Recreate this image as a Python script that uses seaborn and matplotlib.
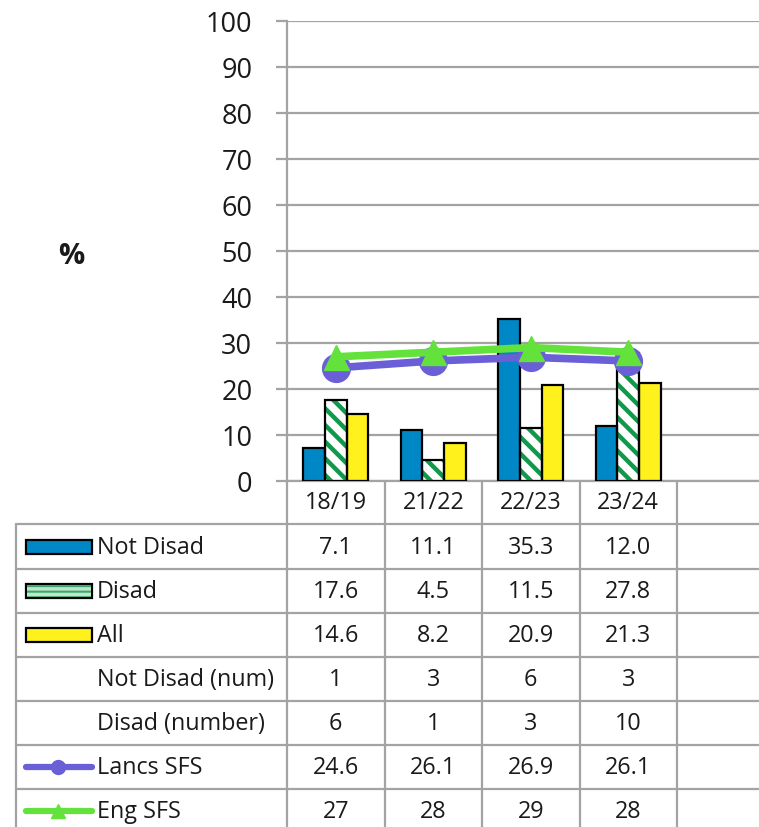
import numpy as np
import pandas as pd
import matplotlib
matplotlib.use("Agg")
import matplotlib.pyplot as plt
import matplotlib.patches as mpatches
import matplotlib.lines as mlines
from matplotlib.transforms import blended_transform_factory
import seaborn as sns

years = ["18/19", "21/22", "22/23", "23/24"]
not_disad = [7.1, 11.1, 35.3, 12.0]
disad = [17.6, 4.5, 11.5, 27.8]
all_pupils = [14.6, 8.2, 20.9, 21.3]
not_disad_num = [1, 3, 6, 3]
disad_num = [6, 1, 3, 10]
lancs_sfs = [24.6, 26.1, 26.9, 26.1]
eng_sfs = [27, 28, 29, 28]

bar_series = ["Not Disad", "Disad", "All"]
yticks = list(range(0, 101, 10))

# colours
blue = "#0088C6"
green = "#10994A"
yellow = "#FFF21C"
lancs_col = "#6A5FD6"
eng_col = "#63E23C"
grid_col = "#A3A3A3"
txt_col = "#1A1A1A"

sns.set_style("white")
plt.rcParams['font.family'] = ['Open Sans', 'DejaVu Sans']
plt.rcParams['hatch.linewidth'] = 3.2

W, H = 759, 828
fig = plt.figure(figsize=(W / 100, H / 100), dpi=100)

def fx(px):
    return px / W

def fy(py):
    return 1 - py / H

# plot area: 287..774 px wide (5 category slots, last one empty and cropped)
ax = fig.add_axes([fx(287), fy(482), fx(774.5) - fx(287), fy(22) - fy(482)])

df = pd.DataFrame({
    "year": years * 3,
    "series": np.repeat(bar_series, len(years)),
    "value": not_disad + disad + all_pupils,
})
sns.barplot(data=df, x="year", y="value", hue="series", order=years,
            hue_order=bar_series, palette=[blue, "white", yellow],
            saturation=1, width=0.667, errorbar=None, legend=False,
            linewidth=0, ax=ax, zorder=2)

for i, cont in enumerate(ax.containers):
    for p in cont:
        if bar_series[i] == "Disad":
            p.set_hatch("\\\\")
            p.set_edgecolor(green)
            p.set_linewidth(0)
        ax.add_patch(mpatches.Rectangle(p.get_xy(), p.get_width(), p.get_height(),
                                        fill=False, ec="black", lw=1.6, zorder=3))

xpos = np.arange(len(years))
ax.plot(xpos, lancs_sfs, color=lancs_col, lw=5.5, marker="o", ms=20,
        mec=lancs_col, zorder=4, solid_capstyle="round")
ax.plot(xpos, eng_sfs, color=eng_col, lw=5.5, marker="^", ms=18,
        mec=eng_col, zorder=5, solid_capstyle="round")

ax.set_xlim(-0.5, 4.5)
ax.set_ylim(0, 100)
ax.set_yticks(yticks)
ax.set_yticklabels([str(t) for t in yticks], fontsize=19.5, color=txt_col)
ax.set_xticks([])
ax.set_xlabel("")
ax.set_ylabel("")
ax.yaxis.grid(True, color=grid_col, lw=1.6)
ax.set_axisbelow(True)
ax.tick_params(axis="y", left=True, length=8, width=1.6, color=grid_col, pad=17)
for s in ["top", "right"]:
    ax.spines[s].set_visible(False)
for s in ["left", "bottom"]:
    ax.spines[s].set_color(grid_col)
    ax.spines[s].set_linewidth(1.6)

fig.text(fx(71), fy(256), "%", fontsize=21, fontweight="bold", color=txt_col,
         ha="center", va="center")

# ---- data table underneath ----
tr = blended_transform_factory(ax.transData, fig.transFigure)
row_edges = [482, 525, 570, 614, 658, 702, 746, 790, 834]

for b in np.arange(-0.5, 4.0, 1.0):
    fig.add_artist(mlines.Line2D([b, b], [fy(482), fy(840)], transform=tr,
                                 color=grid_col, lw=1.6))
fig.add_artist(mlines.Line2D([fx(16), fx(16)], [fy(525), fy(840)],
                             transform=fig.transFigure, color=grid_col, lw=1.6))
for e in row_edges[1:]:
    fig.add_artist(mlines.Line2D([fx(16), 1.0], [fy(e), fy(e)],
                                 transform=fig.transFigure, color=grid_col, lw=1.6))

fs = 16.8
hdr_y = fy((row_edges[0] + row_edges[1]) / 2)
for i, y in enumerate(years):
    fig.text(i, hdr_y, y, transform=tr, fontsize=fs, color=txt_col,
             ha="center", va="center")

rows = [
    ("Not Disad", ["%.1f" % v for v in not_disad]),
    ("Disad", ["%.1f" % v for v in disad]),
    ("All", ["%.1f" % v for v in all_pupils]),
    ("Not Disad (num)", [str(v) for v in not_disad_num]),
    ("Disad (number)", [str(v) for v in disad_num]),
    ("Lancs SFS", ["%.1f" % v for v in lancs_sfs]),
    ("Eng SFS", [str(v) for v in eng_sfs]),
]

for r, (label, vals) in enumerate(rows):
    cy_px = (row_edges[r + 1] + row_edges[r + 2]) / 2
    cy = fy(cy_px)
    fig.text(fx(97), cy, label, fontsize=fs, color=txt_col, ha="left", va="center")
    for i, v in enumerate(vals):
        fig.text(i, cy, v, transform=tr, fontsize=fs, color=txt_col,
                 ha="center", va="center")

    # legend keys
    if label in ("Not Disad", "Disad", "All"):
        fc = {"Not Disad": blue, "Disad": "white", "All": yellow}[label]
        key = mpatches.Rectangle((fx(26), fy(cy_px + 7)), fx(92) - fx(26), fy(cy_px - 7) - fy(cy_px + 7),
                                 transform=fig.transFigure, fc=fc, ec="black", lw=1.6)
        fig.add_artist(key)
        if label == "Disad":
            plt.rcParams['hatch.linewidth'] = 1.5
            hk = mpatches.Rectangle((fx(27), fy(cy_px + 6)), fx(91) - fx(27), fy(cy_px - 6) - fy(cy_px + 6),
                                    transform=fig.transFigure, fc="#bfe6cc", ec="#3aa868",
                                    lw=0, hatch="---")
            fig.add_artist(hk)
    elif label == "Lancs SFS":
        fig.add_artist(mlines.Line2D([fx(26), fx(92)], [cy, cy], transform=fig.transFigure,
                                     color=lancs_col, lw=4.5, solid_capstyle="round"))
        fig.add_artist(mlines.Line2D([fx(58)], [cy], transform=fig.transFigure,
                                     color=lancs_col, marker="o", ms=10))
    elif label == "Eng SFS":
        fig.add_artist(mlines.Line2D([fx(26), fx(92)], [cy, cy], transform=fig.transFigure,
                                     color=eng_col, lw=4.5, solid_capstyle="round"))
        fig.add_artist(mlines.Line2D([fx(58)], [cy], transform=fig.transFigure,
                                     color=eng_col, marker="^", ms=10))

fig.savefig("out.png", dpi=100)
